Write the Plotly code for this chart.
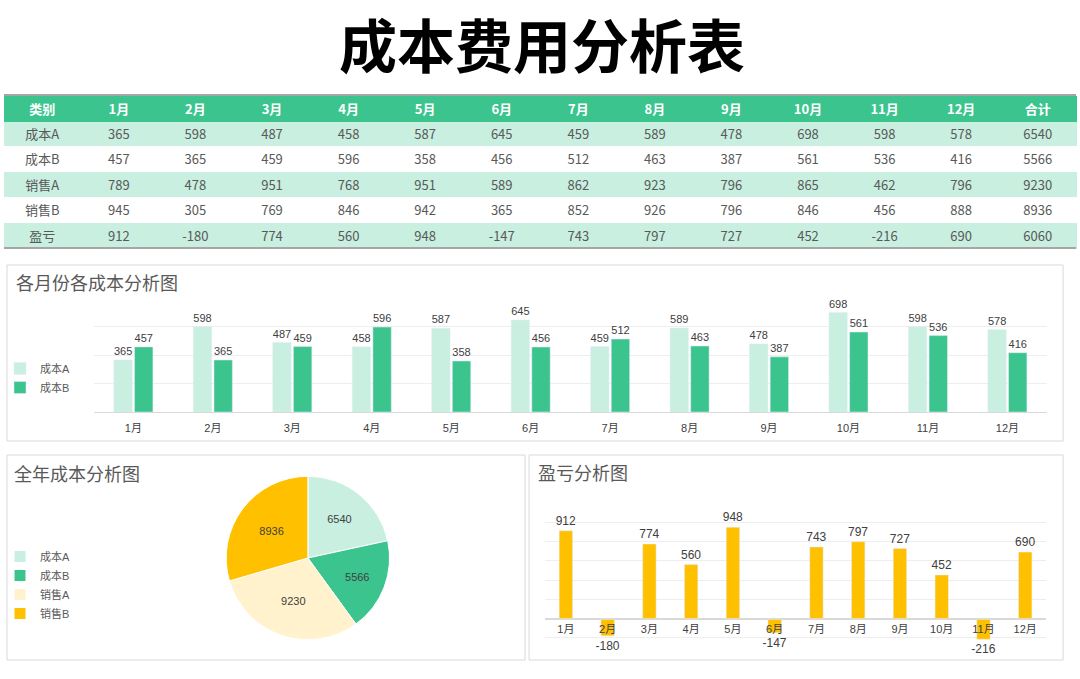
import plotly.graph_objects as go

W, H = 1080, 679

# ---- data ----
months = ['1月', '2月', '3月', '4月', '5月', '6月',
          '7月', '8月', '9月', '10月', '11月', '12月']
row_names = ['成本A', '成本B', '销售A', '销售B', '盈亏']
cost_a = [365, 598, 487, 458, 587, 645, 459, 589, 478, 698, 598, 578]
cost_b = [457, 365, 459, 596, 358, 456, 512, 463, 387, 561, 536, 416]
sales_a = [789, 478, 951, 768, 951, 589, 862, 923, 796, 865, 462, 796]
sales_b = [945, 305, 769, 846, 942, 365, 852, 926, 796, 846, 456, 888]
profit = [912, -180, 774, 560, 948, -147, 743, 797, 727, 452, -216, 690]
totals = [6540, 5566, 9230, 8936, 6060]

# colours
MINT = '#c8efe0'
GREEN = '#3cc48f'
CREAM = '#fff2cc'
GOLD = '#ffc000'
GREY_TXT = '#595959'
CJK = 'Noto Sans CJK SC'
NUM = 'Liberation Sans, Noto Sans CJK SC'


def px_x(v):
    return v / W


def px_y(v):
    return 1 - v / H


fig = go.Figure()

# ---- table ----
row_fill = [MINT if i % 2 == 0 else 'white' for i in range(len(row_names))]
cols = [row_names]
for i in range(len(months)):
    cols.append([cost_a[i], cost_b[i], sales_a[i], sales_b[i], profit[i]])
cols.append(totals)
header = ['类别'] + months + ['合计']

fig.add_trace(go.Table(
    domain=dict(x=[0, px_x(1076)], y=[px_y(254), px_y(96)]),
    columnwidth=[1] * len(header),
    header=dict(values=header, fill_color=GREEN, line=dict(color=GREEN, width=1),
                align='center', height=25,
                font=dict(family=CJK, size=13, color='white', weight='bold')),
    cells=dict(values=cols, fill_color=[row_fill] * len(header),
               line=dict(color=[row_fill] * len(header), width=1),
               align='center', height=25.5,
               font=dict(family=CJK, size=13, color=GREY_TXT)),
))

# ---- monthly cost bars ----
fig.add_trace(go.Bar(x=months, y=cost_a, name='成本A', marker_color=MINT,
                     text=cost_a, textposition='outside', cliponaxis=False,
                     constraintext='none', xaxis='x', yaxis='y', legend='legend',
                     textfont=dict(family=NUM, size=11, color='#404040')))
fig.add_trace(go.Bar(x=months, y=cost_b, name='成本B', marker_color=GREEN,
                     text=cost_b, textposition='outside', cliponaxis=False,
                     constraintext='none', xaxis='x', yaxis='y', legend='legend',
                     textfont=dict(family=NUM, size=11, color='#404040')))

# ---- yearly pie ----
fig.add_trace(go.Pie(labels=row_names[:4], values=totals[:4],
                     text=[str(v) for v in totals[:4]], textinfo='text',
                     textposition='inside', insidetextorientation='horizontal',
                     sort=False, direction='clockwise', rotation=0,
                     marker=dict(colors=[MINT, GREEN, CREAM, GOLD],
                                 line=dict(color='white', width=1)),
                     textfont=dict(family=NUM, size=11, color='#404040'),
                     domain=dict(x=[px_x(223), px_x(387)], y=[px_y(640), px_y(476)]),
                     legend='legend2', hoverinfo='label+value'))

# ---- profit bars ----
fig.add_trace(go.Bar(x=months, y=profit, name='盈亏', marker_color=GOLD,
                     width=0.32, text=profit, textposition='outside',
                     cliponaxis=False, constraintext='none', showlegend=False,
                     xaxis='x2', yaxis='y2',
                     textfont=dict(family=NUM, size=12, color='#404040')))

p_range = [-400, 1200]
p_dom = [px_y(657), px_y(503)]
zero_pos = p_dom[0] + (0 - p_range[0]) / (p_range[1] - p_range[0]) * (p_dom[1] - p_dom[0])

# ---- frames, title, captions ----
border = dict(color='#d9d9d9', width=1)
shapes = [
    dict(type='rect', xref='paper', yref='paper', x0=px_x(3), x1=px_x(1063),
         y0=px_y(441), y1=px_y(265), line=border),
    dict(type='rect', xref='paper', yref='paper', x0=px_x(3), x1=px_x(523),
         y0=px_y(660), y1=px_y(455), line=border),
    dict(type='rect', xref='paper', yref='paper', x0=px_x(527), x1=px_x(1063),
         y0=px_y(660), y1=px_y(455), line=border),
    dict(type='line', xref='paper', yref='paper', x0=0, x1=px_x(1076),
         y0=px_y(95), y1=px_y(95), line=dict(color='#a6a6a6', width=2)),
    dict(type='line', xref='paper', yref='paper', x0=0, x1=px_x(1076),
         y0=px_y(248), y1=px_y(248), line=dict(color='#a6a6a6', width=2)),
]


def caption(text, x, y):
    return dict(text=text, xref='paper', yref='paper', x=px_x(x), y=px_y(y),
                xanchor='left', yanchor='middle', showarrow=False,
                font=dict(family=CJK, size=18, color=GREY_TXT))


annotations = [
    dict(text='成本费用分析表', xref='paper', yref='paper', x=0.5, y=px_y(43),
         xanchor='center', yanchor='middle', showarrow=False,
         font=dict(family=CJK, size=58, color='black', weight='bold')),
    caption('各月份各成本分析图', 10, 282),
    caption('全年成本分析图', 8, 473),
    caption('盈亏分析图', 534, 472),
]

tick_font = dict(family=NUM, size=11, color='#404040')

fig.update_layout(
    width=W, height=H,
    margin=dict(l=0, r=0, t=0, b=0),
    paper_bgcolor='white', plot_bgcolor='white',
    barmode='group', bargap=0.48, bargroupgap=0.11,
    shapes=shapes, annotations=annotations,
    xaxis=dict(domain=[px_x(90), px_x(1047)], anchor='y', showline=True,
               linecolor='#d9d9d9', ticks='', showgrid=False, tickfont=tick_font,
               ticklabelstandoff=6),
    yaxis=dict(domain=[px_y(412), px_y(298)], range=[0, 800], dtick=200,
               showgrid=True, gridcolor='#eeeeee', showticklabels=False,
               zeroline=False, anchor='x'),
    xaxis2=dict(domain=[px_x(543), px_x(1046)], anchor='free', position=zero_pos,
                showline=True, linecolor='#d9d9d9', ticks='', showgrid=False,
                tickfont=tick_font, ticklabelstandoff=0),
    yaxis2=dict(domain=p_dom, range=p_range, dtick=200, showgrid=True,
                gridcolor='#eeeeee', showticklabels=False, zeroline=True,
                zerolinecolor='#d9d9d9', anchor='x2'),
    legend=dict(x=px_x(-4), y=px_y(354), xanchor='left', yanchor='top',
                bgcolor='rgba(0,0,0,0)', tracegroupgap=0, itemwidth=30,
                font=dict(family=NUM, size=11, color=GREY_TXT)),
    legend2=dict(x=px_x(-4), y=px_y(542), xanchor='left', yanchor='top',
                 bgcolor='rgba(0,0,0,0)', tracegroupgap=0, itemwidth=30,
                 font=dict(family=NUM, size=11, color=GREY_TXT)),
)

fig.write_html("out.html", config={'displayModeBar': False},
               post_script="document.body.style.margin='0';")
